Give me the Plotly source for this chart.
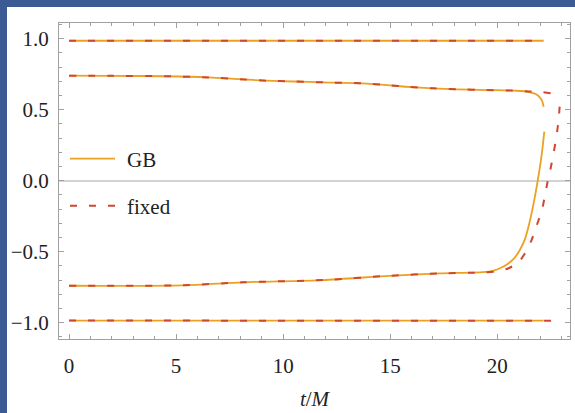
import plotly.graph_objects as go

# ---------------- data ----------------
t_top = [0, 22.17]
gb_top = [0.985, 0.985]
fx_top = [0.985, 0.985]

t_bot_gb = [0, 22.17]
gb_bot = [-0.985, -0.985]
t_bot_fx = [0, 22.2, 22.6, 22.72, 22.8]
fx_bot = [-0.985, -0.985, -0.987, -0.995, -1.02]

t_up_gb = [0, 2, 4.5, 6.5, 8, 9.2, 10.5, 11.85, 13.7, 15, 15.75, 17, 18.1, 19.5,
           20.9, 21.5, 21.8, 22.0, 22.1, 22.17]
gb_up = [0.739, 0.738, 0.735, 0.727, 0.714, 0.704, 0.698, 0.692, 0.685, 0.671,
         0.661, 0.65, 0.643, 0.638, 0.633, 0.624, 0.61, 0.585, 0.56, 0.52]

t_up_fx = [0, 2, 4.5, 6.5, 8, 9.2, 10.5, 11.85, 13.7, 15, 15.75, 17, 18.1, 19.5,
           20.9, 21.5, 22.1, 22.5, 22.95]
fx_up = [0.739, 0.738, 0.735, 0.727, 0.714, 0.704, 0.698, 0.692, 0.685, 0.671,
         0.661, 0.65, 0.643, 0.638, 0.633, 0.628, 0.624, 0.615, 0.60]

t_lo_gb = [0, 5.3, 8.1, 11.85, 14.95, 17.3, 19.33, 19.8, 20.2, 20.5, 20.8, 21.05,
           21.3, 21.5, 21.7, 21.88, 22.0, 22.1, 22.2]
gb_lo = [-0.74, -0.737, -0.716, -0.70, -0.67, -0.653, -0.644, -0.635, -0.612, -0.585,
         -0.545, -0.49, -0.41, -0.30, -0.16, -0.01, 0.1, 0.21, 0.345]

t_lo_fx = [0, 5.3, 8.1, 11.85, 14.95, 17.3, 19.36, 20.0, 20.4, 20.75, 21.05, 21.3,
           21.6, 21.85, 22.09, 22.24, 22.35, 22.48, 22.63, 22.79, 22.88, 22.93]
fx_lo = [-0.74, -0.737, -0.716, -0.70, -0.67, -0.653, -0.646, -0.638, -0.624, -0.60,
         -0.565, -0.51, -0.42, -0.313, -0.207, -0.095, -0.01, 0.075, 0.192, 0.333,
         0.45, 0.55]

x_ticks = [0, 5, 10, 15, 20]
y_ticks = [-1.0, -0.5, 0.0, 0.5, 1.0]

GB_COLOR = "#EBA122"
FX_COLOR = "#D2452F"
FRAME = "#A0A0A0"
BLUE = "#3B5B94"
FONT = "Liberation Serif"
FS = 21

fig = go.Figure()

gb_sets = [(t_top, gb_top, "linear"), (t_up_gb, gb_up, "spline"),
           (t_lo_gb, gb_lo, "spline"), (t_bot_gb, gb_bot, "linear")]
fx_sets = [(t_top, fx_top, "linear"), (t_up_fx, fx_up, "spline"),
           (t_lo_fx, fx_lo, "spline"), (t_bot_fx, fx_bot, "linear")]

for i, (tx, ty, sh) in enumerate(gb_sets):
    fig.add_trace(go.Scatter(x=tx, y=ty, mode="lines", name="\u2004GB",
                             line=dict(color=GB_COLOR, width=1.8, shape=sh, smoothing=0.7),
                             showlegend=(i == 0), legend="legend"))
for i, (tx, ty, sh) in enumerate(fx_sets):
    fig.add_trace(go.Scatter(x=tx, y=ty, mode="lines", name="\u2004fixed",
                             line=dict(color=FX_COLOR, width=2, dash="7px,12px",
                                       shape=sh, smoothing=0.7),
                             showlegend=(i == 0), legend="legend2"))

# layout geometry (pixels)
W, H = 575, 413
L, R, T, B = 59, 5, 23, 74
pw = W - L - R
ph = H - T - B

def px_x(p):
    return (p - L) / pw

def px_y(p):
    return (H - B - p) / ph

fig.add_shape(type="rect", xref="paper", yref="paper",
              x0=px_x(7), x1=px_x(W + 5), y0=px_y(H + 5), y1=px_y(7),
              fillcolor="white", line=dict(width=0), layer="below")

axis_common = dict(
    showgrid=False, showline=True, linecolor=FRAME, linewidth=1,
    mirror="allticks", ticks="inside", ticklen=5, tickcolor=FRAME, tickwidth=1,
    tickfont=dict(family=FONT, size=FS, color="#222"),
)

fig.update_xaxes(range=[-0.47, 23.4], tickvals=x_ticks, ticklabelstandoff=8,
                 zeroline=False,
                 minor=dict(dtick=1, tick0=0, ticks="inside", ticklen=3, tickcolor=FRAME),
                 title=dict(text="<i>t</i>/<i>M</i>", font=dict(family=FONT, size=FS, color="#222"),
                            standoff=14),
                 **axis_common)
fig.update_yaxes(range=[-1.115, 1.11], tickvals=y_ticks, tickformat=".1f",
                 ticklabelstandoff=5,
                 zeroline=True, zerolinecolor="#D3D3D3", zerolinewidth=1.6,
                 minor=dict(dtick=0.1, tick0=0, ticks="inside", ticklen=3, tickcolor=FRAME),
                 **axis_common)

legend_common = dict(xanchor="left", yanchor="middle", bgcolor="rgba(0,0,0,0)",
                     font=dict(family=FONT, size=FS, color="#222"), itemwidth=45)
fig.update_layout(
    width=W, height=H,
    margin=dict(l=L, r=R, t=T, b=B),
    paper_bgcolor=BLUE, plot_bgcolor="white",
    legend=dict(x=px_x(65), y=px_y(159), **legend_common),
    legend2=dict(x=px_x(65), y=px_y(206), **legend_common),
)

fig.write_html("out.html")
